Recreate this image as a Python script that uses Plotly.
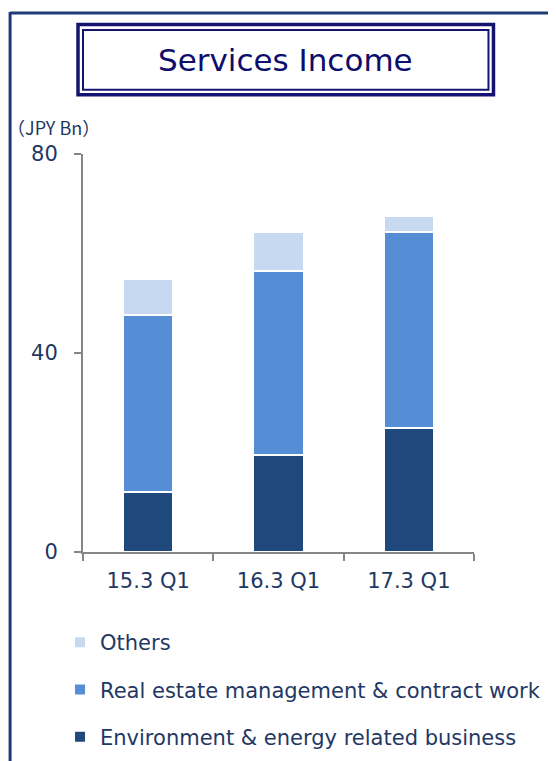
import plotly.graph_objects as go

categories = ["15.3 Q1", "16.3 Q1", "17.3 Q1"]
env_energy = [12.0, 19.4, 25.0]
real_estate = [35.6, 37.1, 39.4]
others = [7.3, 7.8, 3.1]
y_ticks = [0, 40, 80]

NAVY = "#1F3864"
FONT = "DejaVu Sans"

# page offset from default body margin
OFF = 8
# plot area in reference page pixels: x 83..474.5, y 154..552
L, R, T, B = 83, 474.5, 154, 552
PW, PH = 556, 761
W, H = PW - OFF, PH - OFF

def px(x):
    return (x - L) / (R - L)
def py(y):
    return (B - y) / (B - T)

fig = go.Figure()
fig.add_trace(go.Bar(name="Environment & energy related business", x=categories, y=env_energy,
                     marker=dict(color="#1F497D", line=dict(color="white", width=2)),
                     legendgroup="a", legendrank=3))
fig.add_trace(go.Bar(name="Real estate management & contract work", x=categories, y=real_estate,
                     marker=dict(color="#558ED5", line=dict(color="white", width=2)),
                     legendgroup="b", legendrank=2))
fig.add_trace(go.Bar(name="Others", x=categories, y=others,
                     marker=dict(color="#C6D9F1", line=dict(color="white", width=2)),
                     legendgroup="c", legendrank=1))

fig.update_layout(
    width=W, height=H,
    barmode="stack", bargap=0.615,
    plot_bgcolor="white", paper_bgcolor="white",
    margin=dict(l=L - OFF, r=PW - R, t=T - OFF, b=PH - B, pad=0),
    font=dict(family=FONT, color=NAVY),
    showlegend=True,
    legend=dict(traceorder="grouped", x=px(60), xref="paper",
                y=1 - (622 - OFF) / H, yref="container", xanchor="left", yanchor="top",
                font=dict(size=21, color=NAVY, family=FONT), tracegroupgap=17,
                bgcolor="rgba(0,0,0,0)"),
)
fig.update_yaxes(range=[0, 80], tickvals=y_ticks, showgrid=False, zeroline=False,
                 showline=True, linecolor="#868686", linewidth=2,
                 ticks="outside", ticklen=7, tickcolor="#868686", tickwidth=2,
                 tickfont=dict(size=21, color=NAVY, family=FONT), ticklabelstandoff=12)
fig.update_xaxes(showgrid=False, showline=True, linecolor="#868686", linewidth=2,
                 ticks="outside", ticklen=7, tickcolor="#868686", tickwidth=2,
                 tickson="boundaries",
                 tickfont=dict(size=21, color=NAVY, family=FONT), ticklabelstandoff=9)

shapes = []
# outer frame
shapes.append(dict(type="line", xref="paper", yref="paper", x0=px(10), x1=px(600), y0=py(13), y1=py(13),
                   line=dict(color="#1F3C7A", width=3)))
shapes.append(dict(type="line", xref="paper", yref="paper", x0=px(10), x1=px(10), y0=py(12), y1=py(800),
                   line=dict(color="#1F3C7A", width=3)))
# title double box
shapes.append(dict(type="rect", xref="paper", yref="paper", x0=px(78), x1=px(494), y0=py(24.5), y1=py(94.7),
                   line=dict(color="#141470", width=3.5)))
shapes.append(dict(type="rect", xref="paper", yref="paper", x0=px(83), x1=px(489), y0=py(30), y1=py(89.7),
                   line=dict(color="#141470", width=2)))
fig.update_layout(shapes=shapes)

fig.add_annotation(text="Services Income", xref="paper", yref="paper", x=px(286), y=py(60),
                   xanchor="center", yanchor="middle", showarrow=False,
                   font=dict(size=31, color="#0D0D6B", family=FONT))
fig.add_annotation(text="（JPY Bn）", xref="paper", yref="paper", x=px(5), y=py(127),
                   xanchor="left", yanchor="middle", showarrow=False,
                   font=dict(size=18, color=NAVY, family="Noto Sans CJK JP"))

fig.write_html("out.html")
